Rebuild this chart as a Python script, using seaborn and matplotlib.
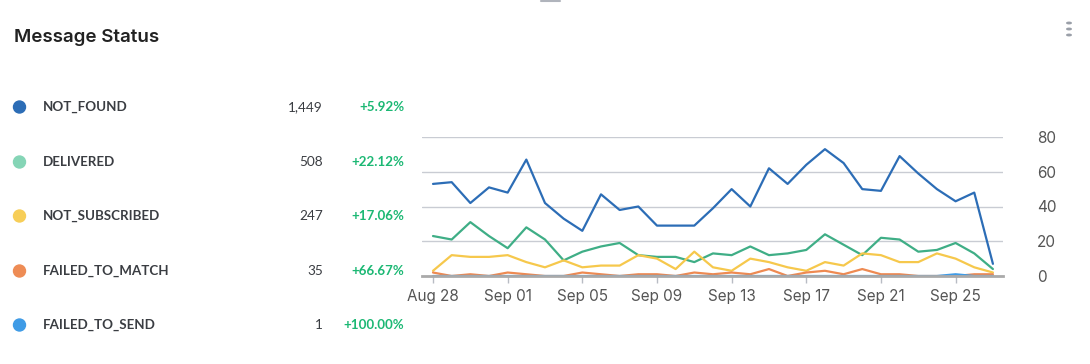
import numpy as np
import pandas as pd
import matplotlib
matplotlib.use("Agg")
import matplotlib.pyplot as plt
import matplotlib.dates as mdates
import seaborn as sns

dates = pd.date_range("2023-08-28", "2023-09-27", freq="D")
series_names = ["NOT_FOUND", "DELIVERED", "NOT_SUBSCRIBED", "FAILED_TO_MATCH", "FAILED_TO_SEND"]
not_found = [53, 54, 42, 51, 48, 67, 42, 33, 26, 47, 38, 40, 29, 29, 29, 39,
             50, 40, 62, 53, 64, 73, 65, 50, 49, 69, 59, 50, 43, 48, 7]
delivered = [23, 21, 31, 23, 16, 28, 21, 9, 14, 17, 19, 12, 11, 11, 8, 13,
             12, 17, 12, 13, 15, 24, 18, 12, 22, 21, 14, 15, 19, 13, 4]
not_subscribed = [3, 12, 11, 11, 12, 8, 5, 9, 5, 6, 6, 12, 10, 4, 14, 5,
                  3, 10, 8, 5, 3, 8, 6, 13, 12, 8, 8, 13, 10, 5, 2]
failed_to_match = [2, 0, 1, 0, 2, 1, 0, 0, 2, 1, 0, 1, 1, 0, 2, 1,
                   2, 1, 4, 0, 2, 3, 1, 4, 1, 1, 0, 0, 0, 1, 1]
failed_to_send = [0, 0, 0, 0, 0, 0, 0, 0, 0, 0, 0, 0, 0, 0, 0, 0,
                  0, 0, 0, 0, 0, 0, 0, 0, 0, 0, 0, 0, 1, 0, 0]
totals = ["1,449", "508", "247", "35", "1"]
changes = ["+5.92%", "+22.12%", "+17.06%", "+66.67%", "+100.00%"]
x_tick_labels = ["Aug 28", "Sep 01", "Sep 05", "Sep 09", "Sep 13", "Sep 17", "Sep 21", "Sep 25"]
y_ticks = [0, 20, 40, 60, 80]

line_colors = ["#2c6db6", "#3fae86", "#f6c84c", "#ee8a52", "#3f9be6"]
dot_colors = ["#2c6db6", "#85d5b6", "#f7ce58", "#ee8c55", "#3f9be6"]

values = [not_found, delivered, not_subscribed, failed_to_match, failed_to_send]
df = pd.concat([pd.DataFrame({"date": dates, "count": v, "status": n})
                for n, v in zip(series_names, values)], ignore_index=True)

sns.set_theme(style="white")
plt.rcParams["font.family"] = ["Inter", "DejaVu Sans"]

W, H = 1090, 364
fig = plt.figure(figsize=(W / 100, H / 100), dpi=100)
ax = fig.add_axes([422 / W, 1 - 276 / H, (1003 - 422) / W, (276 - 137) / H])

pal = dict(zip(series_names, line_colors))
sns.lineplot(data=df, x="date", y="count", hue="status", hue_order=series_names,
             palette=pal, linewidth=1.6, ax=ax, legend=False)

ax.set_ylim(0, 80)
d0 = mdates.date2num(dates[0])
d1 = mdates.date2num(dates[-1])
ax.set_xlim(d0 - 0.59, d1 + 0.54)
ax.set_xlabel("")
ax.set_ylabel("")

ax.yaxis.tick_right()
ax.set_yticks(y_ticks)
ax.set_yticklabels([str(t) for t in y_ticks])
ax.tick_params(axis="y", length=0, pad=24.5, labelsize=11, labelcolor="#555555")
ax.grid(axis="y", color="#c9ccd3", linewidth=1)
ax.grid(axis="x", visible=False)

xt = [dates[0] + pd.Timedelta(days=4 * i) for i in range(len(x_tick_labels))]
ax.set_xticks([mdates.date2num(d) for d in xt])
ax.set_xticklabels(x_tick_labels)
ax.tick_params(axis="x", length=5, width=1, color="#b8bcc4", pad=4,
               labelsize=11, labelcolor="#555555", bottom=True)

for s in ["top", "right", "left"]:
    ax.spines[s].set_visible(False)
ax.spines["bottom"].set_color("#aaaaaa")
ax.spines["bottom"].set_linewidth(2)
ax.set_axisbelow(True)

# Title
fig.text(14 / W, 1 - 38 / H, "Message Status", fontsize=13.5, fontweight="semibold",
         color="#222222", va="center", ha="left")

# Kebab menu dots
for yy in (23, 29, 35):
    fig.patches.append(plt.Circle((1069 / W, 1 - yy / H), 2.2 / W, color="#9a9fa8",
                                  transform=fig.transFigure, figure=fig))
# small handle at top
fig.add_artist(plt.Line2D([541 / W, 560 / W], [1 - 0.8 / H, 1 - 0.8 / H],
                          color="#b0b4bc", linewidth=1.5, transform=fig.transFigure))

# Legend rows
row_y = [107, 162, 216, 271, 325]
for name, tot, chg, col, yy in zip(series_names, totals, changes, dot_colors, row_y):
    yf = 1 - yy / H
    fig.add_artist(matplotlib.patches.Ellipse((19.5 / W, yf), 12 / W, 12 / H, color=col,
                                              transform=fig.transFigure))
    fig.text(43 / W, yf, name, fontsize=9.6, fontweight="bold", color="#3a3d42",
             va="center", ha="left", family=["Lato", "DejaVu Sans"])
    fig.text(323 / W, yf, tot, fontsize=9.8, color="#3a3d42", va="center", ha="right",
             family=["Lato", "DejaVu Sans"])
    fig.text(404 / W, yf, chg, fontsize=9.6, fontweight="bold", color="#1cb874",
             va="center", ha="right", family=["Lato", "DejaVu Sans"])

fig.savefig("out.png", dpi=100, facecolor="white")
